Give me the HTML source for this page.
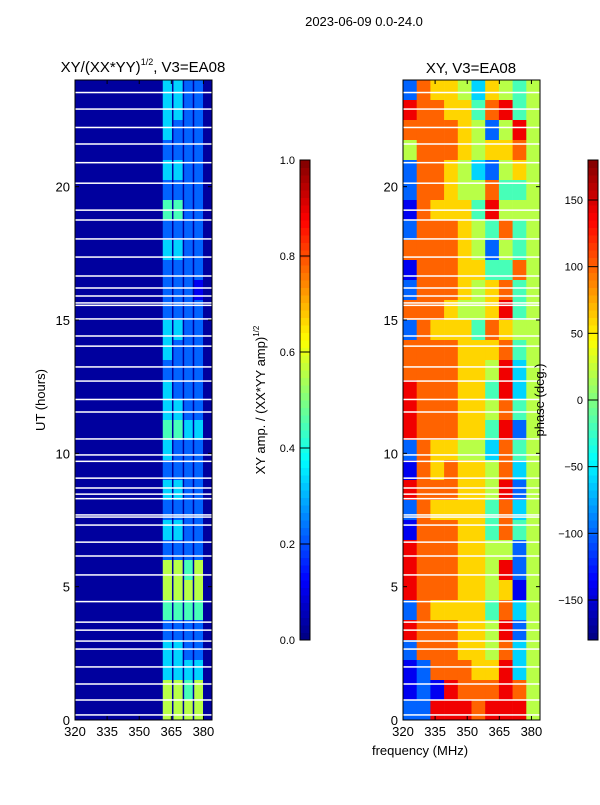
<!DOCTYPE html>
<html><head><meta charset="utf-8"><style>
body{margin:0;background:#fff;width:600px;height:800px;overflow:hidden}
svg{font-family:"Liberation Sans","DejaVu Sans",sans-serif}
</style></head><body>
<svg id="fig" width="600" height="800" xmlns="http://www.w3.org/2000/svg">
<text x="364" y="26" font-size="13" text-anchor="middle">2023-06-09 0.0-24.0</text>
<text x="143" y="72" font-size="15" text-anchor="middle">XY/(XX*YY)<tspan font-size="9" dy="-7">1/2</tspan><tspan dy="7">, V3=EA08</tspan></text>
<text x="471" y="73" font-size="15" text-anchor="middle">XY, V3=EA08</text>
<g id="left"></g>
<g id="right"></g>
<g id="axes"></g>
<text transform="translate(45,400) rotate(-90)" font-size="13" text-anchor="middle">UT (hours)</text>
<text x="420" y="755" font-size="13" text-anchor="middle">frequency (MHz)</text>
<text transform="translate(265,400) rotate(-90)" font-size="13" text-anchor="middle">XY amp. / (XX*YY amp)<tspan font-size="8" dy="-6">1/2</tspan></text>
<text transform="translate(544,400) rotate(-90)" font-size="13" text-anchor="middle">phase (deg.)</text>
</svg>
<script>
// ---- data ----
const freqRange=[320,384];
const utRange=[0,24];
const xTicks=[320,335,350,365,380];
const yTicks=[0,5,10,15,20];
const ampTicks=[0.0,0.2,0.4,0.6,0.8,1.0];
const phaseTicks=[-150,-100,-50,0,50,100,150];
// amplitude band columns (MHz edges) and level per band (0-9 -> 0..1), rows top(24h) to bottom(0h), 0.75 h each
const ampEdges=[320,361,365.3,366,370.3,371,375,375.7,379.8,384];
const ampBandIdx=[-1,0,-1,1,-1,2,-1,3,-1];
const ampRows=["3322","3322","3222","2222","3322","2222","4422","2222","3322","2222","2221","2222","3322","3222","2222","3222","3322","4433","3222","2222","3322","2222","3322","2222","5545","5555","4444","2222","3322","3333","5545","5555"];
const ampBackground=0.03;
// phase grid: 10 freq columns, rows top to bottom; level 0-9 -> -180..180
const phaseRows=["2766536545","8776647845","7777652585","5777656675","2776532565","2776557445","1766648555","2777654745","7777652545","1777664475","2777656745","7776556845","2766647655","7777666745","7777665835","8777664835","8777665745","8777664825","2766553745","1767665735","8777665825","2766664735","1777664745","8777665525","8777665825","8777665615","2766664735","8777665825","2777665735","1277766835","1218777875","2288878885"];
// flagged (white) time rows in UT hours
const gaps=[23.53,22.91,22.22,21.6,20.9,20.13,19.12,18.75,18.04,17.36,16.65,16.2,15.9,15.64,15.55,15.04,14.4,14.02,13.24,12.71,12.02,11.55,10.54,9.94,9.7,9.07,8.7,8.47,8.3,7.69,7.61,7.31,6.67,6.15,5.44,4.44,3.67,3.37,2.96,2.66,1.99,1.35,0.75,0.19];

const NS="http://www.w3.org/2000/svg";
function jet(v){v=Math.max(0,Math.min(1,v));
 const f=(x)=>Math.max(0,Math.min(1,x));
 const r=f(1.5-Math.abs(4*v-3)),g=f(1.5-Math.abs(4*v-2)),b=f(1.5-Math.abs(4*v-1));
 return `rgb(${Math.round(r*255)},${Math.round(g*255)},${Math.round(b*255)})`;}
function mk(t,a,p){const e=document.createElementNS(NS,t);for(const k in a)e.setAttribute(k,a[k]);(p||document.getElementById('fig')).appendChild(e);return e;}
const panels={left:{x0:75,x1:212},right:{x0:403,x1:540}};
const Y0=720,Y1=80;
function yS(u){return Y0-(u-utRange[0])/(utRange[1]-utRange[0])*(Y0-Y1);}
function xS(p,f){return p.x0+(f-freqRange[0])/(freqRange[1]-freqRange[0])*(p.x1-p.x0);}
const L=document.getElementById('left'),R=document.getElementById('right');
const rowH=24/ampRows.length;
ampRows.forEach((row,i)=>{
 const uTop=24-i*rowH,uBot=uTop-rowH;
 for(let c=0;c<ampEdges.length-1;c++){
  const bi=ampBandIdx[c];
  const v=bi<0?ampBackground:(+row[bi])/9;
  const r=mk('rect',{x:xS(panels.left,ampEdges[c]),y:yS(uTop),width:xS(panels.left,ampEdges[c+1])-xS(panels.left,ampEdges[c])+0.3,height:yS(uBot)-yS(uTop)+0.3,fill:jet(v)},L);
  
  
 }
});
const pr=24/phaseRows.length;
phaseRows.forEach((row,i)=>{
 const uTop=24-i*pr,uBot=uTop-pr,n=row.length;
 for(let c=0;c<n;c++){
  const f0=freqRange[0]+c*(freqRange[1]-freqRange[0])/n,f1=f0+(freqRange[1]-freqRange[0])/n;
  const r=mk('rect',{x:xS(panels.right,f0),y:yS(uTop),width:xS(panels.right,f1)-xS(panels.right,f0)+0.3,height:yS(uBot)-yS(uTop)+0.3,fill:jet((+row[c])/9)},R);
  
  
 }
});
for(const k of ['left','right']){const p=panels[k];const g=k==='left'?L:R;
 gaps.forEach(u=>{const r=mk('rect',{x:p.x0,y:yS(u)-0.75,width:p.x1-p.x0,height:1.5,fill:'#fff'},g);
  
  });
 const fr=mk('rect',{x:p.x0,y:Y1,width:p.x1-p.x0,height:Y0-Y1,fill:'none',stroke:'#000','stroke-width':1});
 
 
 xTicks.forEach(t=>{const x=xS(p,t);
  mk('line',{x1:x,x2:x,y1:Y0,y2:Y0-4,stroke:'#000'});mk('line',{x1:x,x2:x,y1:Y1,y2:Y1+4,stroke:'#000'});
  const tx=mk('text',{x:x,y:Y0+16,'font-size':13,'text-anchor':'middle'});tx.textContent=t;
  
  });
 yTicks.forEach(t=>{const y=yS(t);
  mk('line',{x1:p.x0,x2:p.x0+4,y1:y,y2:y,stroke:'#000'});mk('line',{x1:p.x1,x2:p.x1-4,y1:y,y2:y,stroke:'#000'});
  const tx=mk('text',{x:p.x0-5,y:y+5,'font-size':13,'text-anchor':'end'});tx.textContent=t;
  
  });
}
// colorbars
function cbar(x,lo,hi,ticks,fmt,name){
 const top=160,bot=640,n=64;
 for(let i=0;i<n;i++){const r=mk('rect',{x:x,y:bot-(i+1)*(bot-top)/n,width:10,height:(bot-top)/n+0.5,fill:jet((i+0.5)/n)});
  
  }
 const f=mk('rect',{x:x,y:top,width:10,height:bot-top,fill:'none',stroke:'#000'});
 
 
 ticks.forEach(t=>{const y=bot-(t-lo)/(hi-lo)*(bot-top);
  mk('line',{x1:x,x2:x+10,y1:y,y2:y,stroke:'#000'});
  const tx=mk('text',{x:x-5,y:y+4,'font-size':11,'text-anchor':'end'});tx.textContent=fmt(t);
  
  });
}
cbar(300,0,1,ampTicks,t=>t.toFixed(1),'amp-colorbar');
cbar(588,-180,180,phaseTicks,t=>t<0?'\u2212'+(-t):String(t),'phase-colorbar');
</script>
</body></html>
